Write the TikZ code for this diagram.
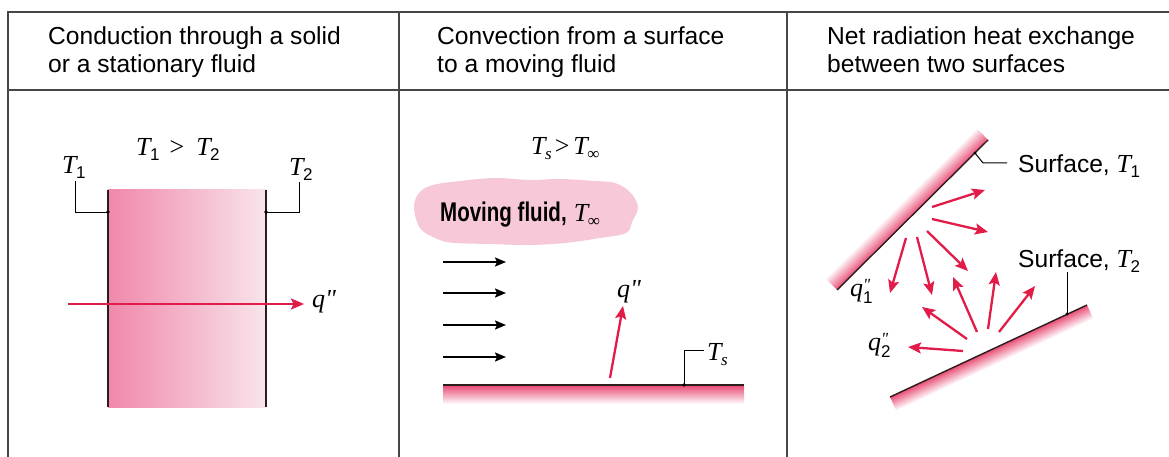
\documentclass[tikz,border=0pt]{standalone}
\usepackage{fontspec}
\setmainfont{Liberation Sans}
\newfontfamily\serif{Liberation Serif}
\usetikzlibrary{arrows.meta}
\definecolor{tline}{RGB}{70,70,70}
\definecolor{hred}{RGB}{226,28,72}
\definecolor{slabL}{RGB}{240,136,170}
\definecolor{slabR}{RGB}{249,228,236}
\definecolor{cloudc}{RGB}{246,200,216}
\definecolor{surfpink}{RGB}{232,80,120}
\definecolor{surfline}{RGB}{45,28,28}
\newcommand\Tsub[1]{{\serif\itshape T}\kern-0.5pt\raisebox{-5pt}{\fontsize{17}{17}\selectfont #1}}
\newcommand\qpp{{\serif\itshape q"}}
\newcommand\qsub[1]{{\serif\itshape q}\makebox[0pt][l]{\raisebox{5.5pt}{\serif\itshape\fontsize{17}{17}\selectfont"}}\raisebox{-7.5pt}{\fontsize{17}{17}\selectfont #1}}
\begin{document}
\begin{tikzpicture}[x=1pt,y=-1pt,
  tablel/.style={draw=tline,line width=1.3pt},
  hdr/.style={anchor=base west,inner sep=0pt,font=\fontsize{24.6}{28}\selectfont},
  mlab/.style={inner sep=0pt,font=\fontsize{26}{28}\selectfont},
  leader/.style={draw=black,line width=1pt},
  redarrow/.style={draw=hred,line width=2.3pt,-{Stealth[length=13pt,width=11pt,inset=2.5pt]}},
  blkarrow/.style={draw=black,line width=1.9pt,-{Stealth[length=11pt,width=9pt,inset=2pt]}},
  surf/.style={draw=surfline,line width=1.6pt},
  dotc/.style={fill=black}
]
\useasboundingbox (0,0) rectangle (1169,457);
% table
\draw[tablel] (8,457) -- (8,12) -- (1169,12);
\draw[tablel] (8,90) -- (1169,90);
\draw[tablel] (399,12) -- (399,457);
\draw[tablel] (787,12) -- (787,457);
% headers
\node[hdr] (h1a) at (48,45) {Conduction through a solid};
\node[hdr] (h1b) at (48,73) {or a stationary fluid};
\node[hdr] (h2a) at (437,45) {Convection from a surface};
\node[hdr] (h2b) at (437,73) {to a moving fluid};
\node[hdr] (h3a) at (827,45) {Net radiation heat exchange};
\node[hdr] (h3b) at (827,73) {between two surfaces};

% ---------- column 1 ----------
\shade[left color=slabL,right color=slabR] (108,190) rectangle (266,407);
\draw[surf,line width=1.2pt] (108,190) -- (108,407);
\draw[surf,line width=1.2pt] (266,190) -- (266,407);
\node[mlab,anchor=base west] (cmp1) at (136,156) {\Tsub{1}\hspace{10pt}{\serif >}\hspace{12pt}\Tsub{2}};
\node[mlab,anchor=base west] (t1) at (62,174) {\Tsub{1}};
\node[mlab,anchor=base west] (t2) at (289,176) {\Tsub{2}};
\coordinate (t1l) at (75,181);
\coordinate (t1d) at (108,212);
\coordinate (t2l) at (299,182);
\coordinate (t2d) at (266,212);
\draw[leader] (t1l) |- (t1d);
\draw[leader] (t2l) |- (t2d);
\fill[dotc] (t1d) circle (1.8);
\fill[dotc] (t2d) circle (1.8);
\node[mlab,anchor=base west] (q1) at (312,307) {\qpp};
\coordinate (qa) at (68,304);
\coordinate (qb) at (304,304);
\draw[redarrow] (qa) -- (qb);

% ---------- column 2 ----------
\node[mlab,anchor=base west] (cmp2) at (531,155) {\Tsub{\serif\itshape s}\kern3pt{\serif >}\kern4pt\Tsub{\serif ∞}};
\fill[cloudc] plot[smooth cycle,tension=0.6] coordinates {
  (414,205) (420,192) (433,185) (460,181) (495,178) (530,180) (560,179)
  (595,181) (615,183) (630,192) (638,207) (632,222) (626,233) (600,238)
  (565,243) (528,245) (490,244) (455,243) (440,240) (424,232) (417,222)};
\node[anchor=base west,inner sep=0pt] (mf) at (440,222)
  {\scalebox{0.76}[1]{\fontsize{27}{30}\selectfont\bfseries Moving fluid,}\fontsize{26}{28}\selectfont\ \Tsub{\serif ∞}};
\foreach \yy [count=\i] in {262,293,325,357}{
  \coordinate (fa\i) at (443,\yy);
  \coordinate (fb\i) at (506,\yy);
  \draw[blkarrow] (fa\i) -- (fb\i);
}
\shade[top color=surfpink,bottom color=white] (443,386) rectangle (744,404);
\coordinate (sL) at (443,385);
\coordinate (sR) at (744,385);
\draw[surf] (sL) -- (sR);
\coordinate (ca) at (610,378);
\coordinate (cb) at (623,306);
\draw[redarrow] (ca) -- (cb);
\node[mlab,anchor=base west] (q2) at (617,297) {\qpp};
\coordinate (tsd) at (684,385);
\coordinate (tsl) at (704,350);
\draw[leader] (tsd) |- (tsl);
\fill[dotc] (tsd) circle (1.8);
\node[mlab,anchor=base west] (ts) at (707,360) {\Tsub{\serif\itshape s}};

% ---------- column 3 ----------
\begin{scope}[transform canvas={shift={(837,290)},rotate=44.8}]
  \shade[bottom color=surfpink,top color=white] (0pt,0pt) rectangle (213pt,17pt);
\end{scope}
\begin{scope}[transform canvas={shift={(890,397)},rotate=25.04}]
  \shade[top color=surfpink,bottom color=white] (0pt,-15pt) rectangle (217.4pt,0pt);
\end{scope}
\coordinate (s1a) at (837,290);
\coordinate (s1b) at (988,140);
\coordinate (s2a) at (890,397);
\coordinate (s2b) at (1087,305);
\draw[surf,line width=1.4pt] (s1a) -- (s1b);
\draw[surf,line width=1.4pt] (s2a) -- (s2b);
\node[hdr] (sf1) at (1018,173) {Surface, {\fontsize{26}{28}\selectfont\Tsub{1}}};
\node[hdr] (sf2) at (1018,267) {Surface, {\fontsize{26}{28}\selectfont\Tsub{2}}};
\coordinate (l1d) at (975,153);
\coordinate (l1k) at (983,163);
\coordinate (l1e) at (1007,163);
\draw[leader] (l1d) -- (l1k) -- (l1e);
\fill[dotc] (l1d) circle (1.6);
\coordinate (l2d) at (1067,314);
\coordinate (l2e) at (1067,272);
\draw[leader] (l2d) -- (l2e);
\fill[dotc] (l2d) circle (1.6);
\node[mlab,anchor=base west] (q31) at (850,296) {\qsub{1}};
\node[mlab,anchor=base west] (q32) at (868,350) {\qsub{2}};
\foreach \ax/\ay/\bx/\by [count=\i] in {
  932/207/985/190, 932/219/988/232, 927/231/968/271, 917/237/932/295,
  906/238/890/293, 963/351/908/347, 967/339/922/307, 977/332/953/277,
  988/329/996/272, 999/332/1035/286}{
  \coordinate (ra\i) at (\ax,\ay);
  \coordinate (rb\i) at (\bx,\by);
  \draw[redarrow] (ra\i) -- (rb\i);
}
\end{tikzpicture}
\end{document}
